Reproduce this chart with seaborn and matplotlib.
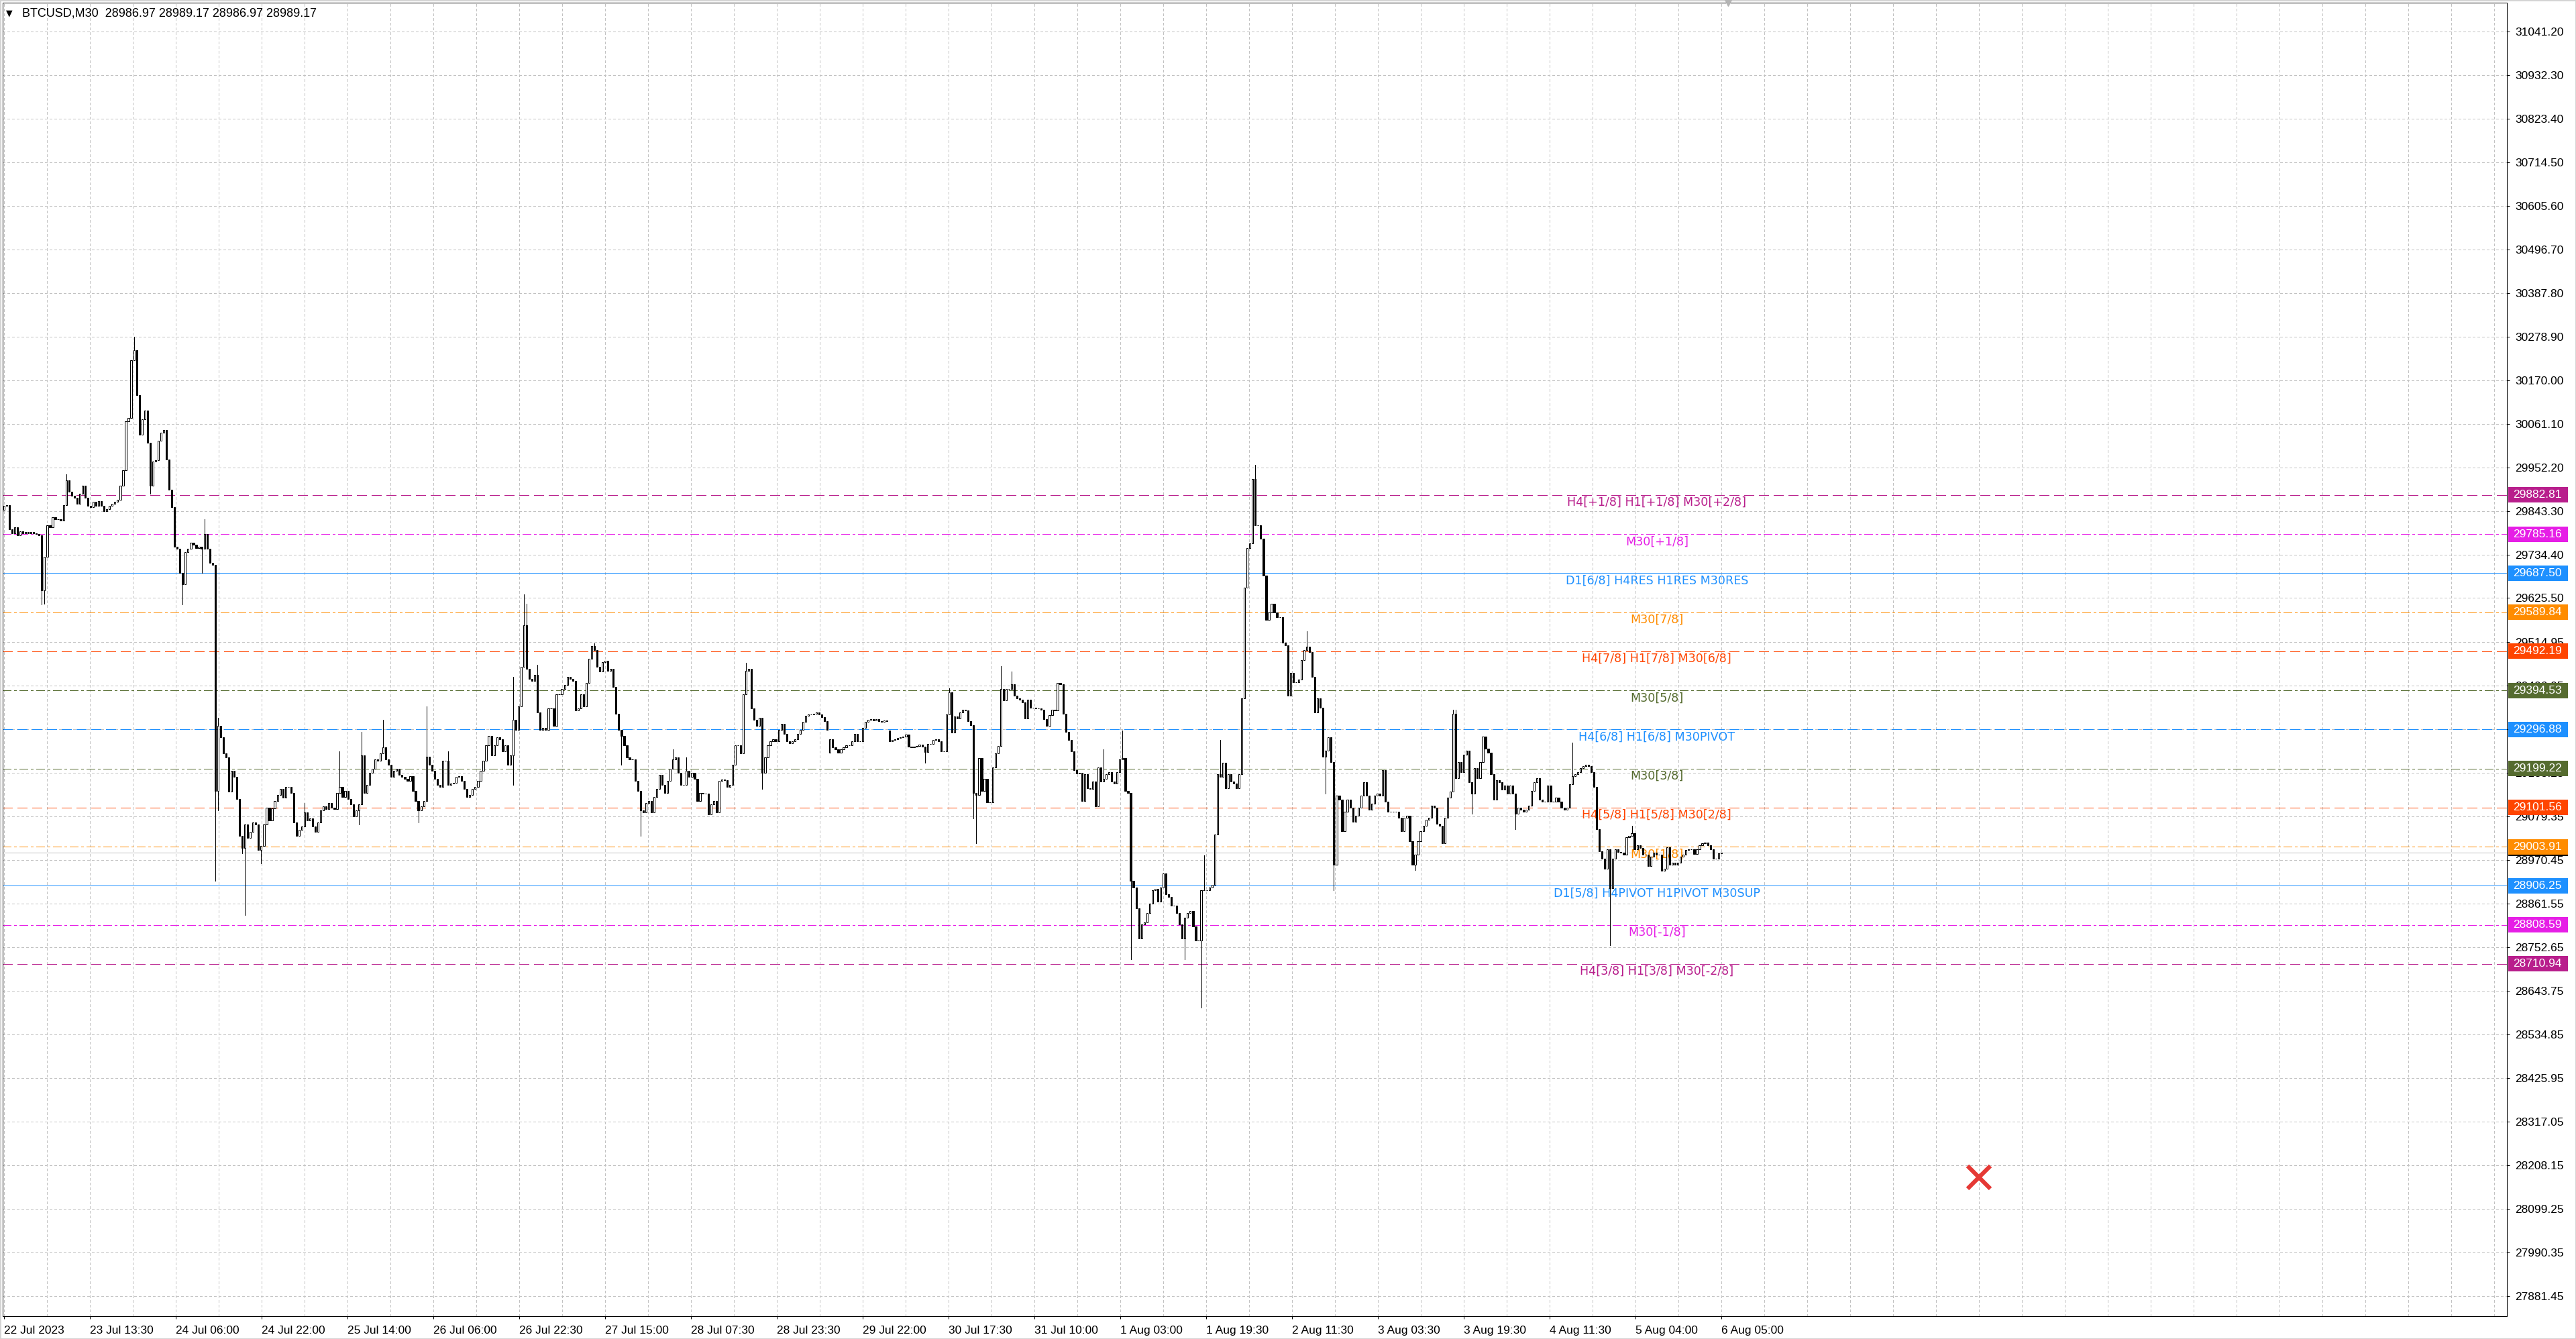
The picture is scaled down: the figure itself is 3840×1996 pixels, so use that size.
import numpy as np
import matplotlib
matplotlib.use('Agg')
import matplotlib.pyplot as plt
import matplotlib.transforms as mtransforms
from matplotlib.patches import Rectangle
import seaborn as sns

# ---- data ----
header = 'BTCUSD,M30  28986.97 28989.17 28986.97 28989.17'

first_open = 29846
closes = [
    29856, 29858, 29797, 29788, 29802, 29783, 29793, 29788, 29790, 29788,
    29790, 29788, 29786, 29783, 29645, 29729, 29807, 29802, 29827, 29822,
    29822, 29819, 29858, 29920, 29891, 29881, 29876, 29861, 29886, 29906,
    29876, 29856, 29852, 29866, 29856, 29868, 29856, 29842, 29847, 29856,
    29861, 29866, 29871, 29906, 29945, 30068, 30075, 30220, 30245, 30132,
    30033, 30073, 30094, 30014, 29906, 29967, 29970, 30019, 30038, 30045,
    29972, 29896, 29852, 29753, 29748, 29689, 29660, 29740, 29748, 29763,
    29758, 29750, 29753, 29748, 29786, 29748, 29713, 29709, 29144, 29306,
    29277, 29237, 29227, 29141, 29193, 29178, 29124, 29031, 29001, 29060,
    29026, 29041, 29065, 29060, 28996, 29006, 29060, 29102, 29070, 29100,
    29119, 29134, 29149, 29127, 29154, 29154, 29139, 29065, 29031, 29046,
    29055, 29090, 29070, 29075, 29055, 29041, 29065, 29095, 29105, 29098,
    29114, 29102, 29098, 29139, 29154, 29129, 29144, 29124, 29109, 29080,
    29095, 29109, 29232, 29139, 29159, 29188, 29198, 29223, 29218, 29237,
    29252, 29223, 29208, 29178, 29193, 29198, 29183, 29178, 29173, 29168,
    29180, 29144, 29119, 29095, 29105, 29119, 29229, 29208, 29193, 29173,
    29159, 29154, 29218, 29218, 29159, 29161, 29164, 29178, 29180, 29168,
    29149, 29129, 29134, 29149, 29154, 29168, 29193, 29218, 29257, 29281,
    29232, 29257, 29277, 29272, 29242, 29257, 29208, 29232, 29321, 29296,
    29355, 29453, 29557, 29449, 29424, 29419, 29434, 29340, 29296, 29301,
    29296, 29350, 29350, 29306, 29385, 29385, 29399, 29409, 29429, 29424,
    29419, 29345, 29350, 29385, 29355, 29414, 29473, 29505, 29495, 29453,
    29442, 29465, 29468, 29444, 29449, 29404, 29336, 29296, 29281, 29257,
    29227, 29222, 29222, 29168, 29144, 29095, 29090, 29114, 29119, 29090,
    29129, 29149, 29183, 29159, 29139, 29168, 29198, 29222, 29227, 29188,
    29159, 29159, 29193, 29178, 29188, 29173, 29119, 29139, 29137, 29137,
    29085, 29109, 29119, 29090, 29168, 29172, 29170, 29154, 29159, 29208,
    29257, 29257, 29237, 29385, 29444, 29449, 29350, 29321, 29306, 29326,
    29188, 29227, 29257, 29267, 29272, 29267, 29296, 29311, 29286, 29267,
    29262, 29267, 29272, 29286, 29296, 29316, 29331, 29334, 29334, 29336,
    29340, 29334, 29328, 29318, 29296, 29272, 29252, 29247, 29239, 29247,
    29252, 29257, 29257, 29267, 29286, 29267, 29267, 29301, 29316, 29321,
    29323, 29319, 29323, 29317, 29316, 29319, 29317, 29268, 29270, 29272,
    29275, 29277, 29279, 29285, 29254, 29252, 29254, 29256, 29259, 29254,
    29240, 29260, 29260, 29271, 29272, 29268, 29242, 29242, 29335, 29390,
    29289, 29329, 29325, 29340, 29346, 29344, 29317, 29308, 29139, 29133,
    29225, 29144, 29173, 29115, 29115, 29202, 29237, 29256, 29398, 29369,
    29398, 29398, 29410, 29381, 29375, 29372, 29364, 29325, 29372, 29352,
    29351, 29349, 29350, 29346, 29323, 29306, 29332, 29346, 29344, 29413,
    29410, 29337, 29291, 29271, 29242, 29196, 29187, 29189, 29118, 29185,
    29150, 29148, 29167, 29104, 29202, 29167, 29173, 29185, 29190, 29167,
    29162, 29190, 29222, 29225, 29144, 29139, 28919, 28902, 28850, 28775,
    28810, 28815, 28839, 28862, 28896, 28899, 28867, 28902, 28937, 28885,
    28879, 28856, 28856, 28839, 28810, 28775, 28827, 28839, 28844, 28804,
    28769, 28769, 28896, 28896, 28896, 28902, 28908, 29035, 29185, 29179,
    29214, 29150, 29185, 29167, 29162, 29150, 29185, 29375, 29652, 29750,
    29762, 29923, 29808, 29808, 29773, 29681, 29571, 29589, 29612, 29589,
    29577, 29577, 29514, 29508, 29381, 29439, 29415, 29415, 29421,
    29470, 29495, 29504, 29490, 29428, 29339, 29375, 29352, 29229, 29244,
    29278, 29215, 28959, 29131, 29121, 29043, 29092, 29121, 29102, 29067,
    29082, 29102, 29131, 29165, 29131, 29097, 29111, 29131, 29136, 29131,
    29195, 29116, 29092, 29092, 29092, 29092, 29077, 29043, 29077, 29082,
    29018, 28959, 28984, 29018, 29043, 29057, 29072, 29077, 29106, 29102,
    29062, 29057, 29013, 29077, 29126, 29141, 29337, 29175, 29215, 29190,
    29234, 29244, 29165, 29136, 29200, 29175, 29215, 29280, 29249, 29239,
    29185, 29121, 29170, 29165, 29146, 29156, 29136, 29156, 29136, 29087,
    29102, 29097, 29092, 29097, 29106, 29143, 29165, 29175, 29121, 29116,
    29116, 29156, 29116, 29116, 29126, 29116, 29102, 29097, 29102, 29160,
    29180, 29185, 29190, 29200, 29205, 29208, 29205, 29190, 29153, 29048,
    28993, 28974, 28949, 28998, 28900, 28974, 28998, 28991, 28989, 28984,
    29028, 29031, 29038, 28998, 29008, 29001, 28984, 28984, 28956, 28979,
    28989, 28984, 28984, 28944, 28949, 29003, 28959, 28964, 28959, 28964,
    28979, 28984, 28995, 28998, 28998, 28986, 28998, 29008, 29013, 29015,
    29008, 28998, 28974, 28974, 28986.97, 28989.17,
]
gap_opens = {305: 29239, 327: 29294}
wick_highs = {23: 29935, 48: 30279, 74: 29822, 79: 29326, 111: 29114,
              124: 29242, 132: 29291, 140: 29321, 156: 29355, 164: 29242,
              188: 29429, 192: 29635, 193: 29611, 197: 29458, 218: 29513,
              247: 29247, 252: 29227, 274: 29463, 349: 29400, 368: 29456,
              372: 29441, 406: 29248, 413: 29294, 443: 28983, 449: 29271,
              462: 29958, 481: 29542, 535: 29347, 536: 29347, 579: 29264,
              601: 29057}
wick_lows = {14: 29609, 15: 29611, 54: 29886, 66: 29609, 73: 29689,
             78: 28918, 79: 29095, 88: 28987, 89: 28834, 95: 28962,
             131: 29060, 153: 29065, 188: 29159, 228: 29208, 235: 29031,
             280: 29149, 340: 29214, 358: 29075, 359: 29012, 416: 28723,
             436: 28723, 442: 28602, 488: 29136, 491: 28895, 521: 28945,
             542: 29087, 558: 29047, 593: 28758}
bid_price = 28989.17

level_prices = [29882.81, 29785.16, 29687.50, 29589.84, 29492.19, 29394.53,
                29296.88, 29199.22, 29101.56, 29003.91, 28906.25, 28808.59,
                28710.94]
level_names = ['H4[+1/8] H1[+1/8] M30[+2/8]', 'M30[+1/8]',
               'D1[6/8] H4RES H1RES M30RES', 'M30[7/8]',
               'H4[7/8] H1[7/8] M30[6/8]', 'M30[5/8]',
               'H4[6/8] H1[6/8] M30PIVOT', 'M30[3/8]',
               'H4[5/8] H1[5/8] M30[2/8]', 'M30[1/8]',
               'D1[5/8] H4PIVOT H1PIVOT M30SUP', 'M30[-1/8]',
               'H4[3/8] H1[3/8] M30[-2/8]']
level_colors = ['#B81E8C', '#E61EE6', '#1E90FF', '#FF8C00', '#FF4500',
                '#556B2F', '#1E90FF', '#556B2F', '#FF4500', '#FF8C00',
                '#1E90FF', '#E61EE6', '#B81E8C']
level_kinds = ['dash', 'dashdot', 'solid', 'dashdot', 'dash', 'dashdot',
               'dash', 'dashdot', 'dash', 'dashdot', 'solid', 'dashdot', 'dash']

y_ticks = [31041.20, 30932.30, 30823.40, 30714.50, 30605.60, 30496.70,
           30387.80, 30278.90, 30170.00, 30061.10, 29952.20, 29843.30,
           29734.40, 29625.50, 29514.95, 29406.05, 29297.15, 29188.25,
           29079.35, 28970.45, 28861.55, 28752.65, 28643.75, 28534.85,
           28425.95, 28317.05, 28208.15, 28099.25, 27990.35, 27881.45]
x_labels = ['22 Jul 2023', '23 Jul 13:30', '24 Jul 06:00', '24 Jul 22:00',
            '25 Jul 14:00', '26 Jul 06:00', '26 Jul 22:30', '27 Jul 15:00',
            '28 Jul 07:30', '28 Jul 23:30', '29 Jul 22:00', '30 Jul 17:30',
            '31 Jul 10:00', '1 Aug 03:00', '1 Aug 19:30', '2 Aug 11:30',
            '3 Aug 03:30', '3 Aug 19:30', '4 Aug 11:30', '5 Aug 04:00',
            '6 Aug 05:00']

cross_bar = 736
cross_price = 28178

# ---- layout constants (pixels of the 3840x1996 screenshot) ----
W, H = 3840, 1996
PX = 0.72                # one pixel in points at dpi 100
BARS_SHOWN = 640         # last bar index on the screen
LABEL_STEP = 32          # bars between time labels
Y_LO, Y_HI = 27830.5, 31113.5
X_LO, X_HI = -0.45, 932.8
PX_PER_PRICE = 1958 / (Y_HI - Y_LO)

sns.set_theme(style='white')
plt.rcParams['font.family'] = ['Liberation Sans', 'DejaVu Sans']

fig = plt.figure(figsize=(W / 100, H / 100), dpi=100)
fig.patch.set_facecolor('white')
ax = fig.add_axes([4 / W, 34 / H, 3733 / W, 1958 / H])
ax.set_facecolor('white')

# ---- candles ----
c = np.array(closes, dtype=float)
o = np.concatenate([[first_open], c[:-1]])
for i, v in gap_opens.items():
    o[i] = v
n = len(c)
x = np.arange(n) * BARS_SHOWN / (n - 1)
top = np.maximum(o, c)
bot = np.minimum(o, c)
hi = np.array([max(top[i], wick_highs.get(i, top[i])) for i in range(n)])
lo = np.array([min(bot[i], wick_lows.get(i, bot[i])) for i in range(n)])
up = c >= o

ax.vlines(x, lo, hi, color='black', lw=PX, zorder=4, antialiased=False)
ax.bar(x[up], (top - bot)[up], bottom=bot[up], width=0.55,
       facecolor='white', edgecolor='black', linewidth=PX, zorder=5)
ax.bar(x[~up], (top - bot)[~up], bottom=bot[~up], width=0.55,
       facecolor='black', edgecolor='black', linewidth=PX, zorder=5)

# ---- Murrey levels ----
dash_styles = {'dash': (0, (15, 7)), 'dashdot': (0, (13, 5, 3, 5)), 'solid': '-'}
trans = mtransforms.blended_transform_factory(ax.transAxes, ax.transData)
box_h = 23 / PX_PER_PRICE
for price, name, col, kind in zip(level_prices, level_names, level_colors, level_kinds):
    ax.axhline(price, color=col, lw=PX, linestyle=dash_styles[kind], zorder=2,
               antialiased=False)
    ax.annotate(name, xy=(616, price), xytext=(0, -1.5), textcoords='offset points',
                ha='center', va='top', color=col, fontsize=12.6,
                family=['DejaVu Sans'], zorder=3)

# bid line
ax.axhline(bid_price, color='#C0C0C0', lw=PX, zorder=1.8, antialiased=False)

# ---- grid ----
grid_kw = dict(color='#C2C2C2', lw=PX, linestyle=(0, (4, 3)), antialiased=False)
ax.set_xticks(np.arange(0, BARS_SHOWN + 1, LABEL_STEP))
ax.set_xticklabels(x_labels)
ax.set_xticks(np.arange(0, X_HI, LABEL_STEP // 2), minor=True)
ax.grid(which='both', axis='x', **grid_kw)
ax.set_yticks(y_ticks)
ax.set_yticklabels(['%.2f' % v for v in y_ticks])
ax.grid(which='major', axis='y', **grid_kw)

ax.yaxis.tick_right()
ax.tick_params(axis='y', which='major', direction='out', length=3, width=PX,
               pad=6, labelsize=12.5, colors='black', right=True, left=False)
ax.tick_params(axis='x', which='major', direction='out', length=3, width=PX,
               pad=7, labelsize=12.5, colors='black', bottom=True)
ax.tick_params(axis='x', which='minor', length=0)
for lbl in ax.get_xticklabels():
    lbl.set_ha('left')

ax.set_xlim(X_LO, X_HI)
ax.set_ylim(Y_LO, Y_HI)
for sp in ax.spines.values():
    sp.set_visible(True)
    sp.set_color('black')
    sp.set_linewidth(PX)
    sp.set_antialiased(False)

# ---- price boxes on the right scale ----
bx0 = 1 + 2 / 3733
bw = 89 / 3733
ax.add_patch(Rectangle((bx0, bid_price - 8), bw, 5, transform=trans,
                       facecolor='black', edgecolor='none', clip_on=False, zorder=5.8))
for price, col in zip(level_prices, level_colors):
    ax.add_patch(Rectangle((bx0, price - box_h / 2), bw, box_h, transform=trans,
                           facecolor=col, edgecolor='none', clip_on=False, zorder=6))
    ax.text(1 + 9 / 3733, price, '%.2f' % price, transform=trans, ha='left',
            va='center', color='white', fontsize=12.5, clip_on=False, zorder=7)

# ---- misc marks ----
ax.plot([cross_bar], [cross_price], marker='x', ms=24, mew=4.5,
        color='#E53935', zorder=8)
ax.plot([642.5], [Y_HI], marker='v', ms=7, color='#B4B4B4',
        clip_on=False, zorder=8)

fig.text(9 / W, 1 - 20 / H, '\u25bc', ha='left', va='center', fontsize=9,
         family=['DejaVu Sans'], color='black')
fig.text(33 / W, 1 - 20 / H, header, ha='left', va='center', fontsize=13,
         color='black')

fig.patch.set_edgecolor('#D4D4D4')
fig.patch.set_linewidth(2)

fig.savefig('out.png', dpi=100, facecolor=fig.get_facecolor(),
            edgecolor=fig.get_edgecolor())
